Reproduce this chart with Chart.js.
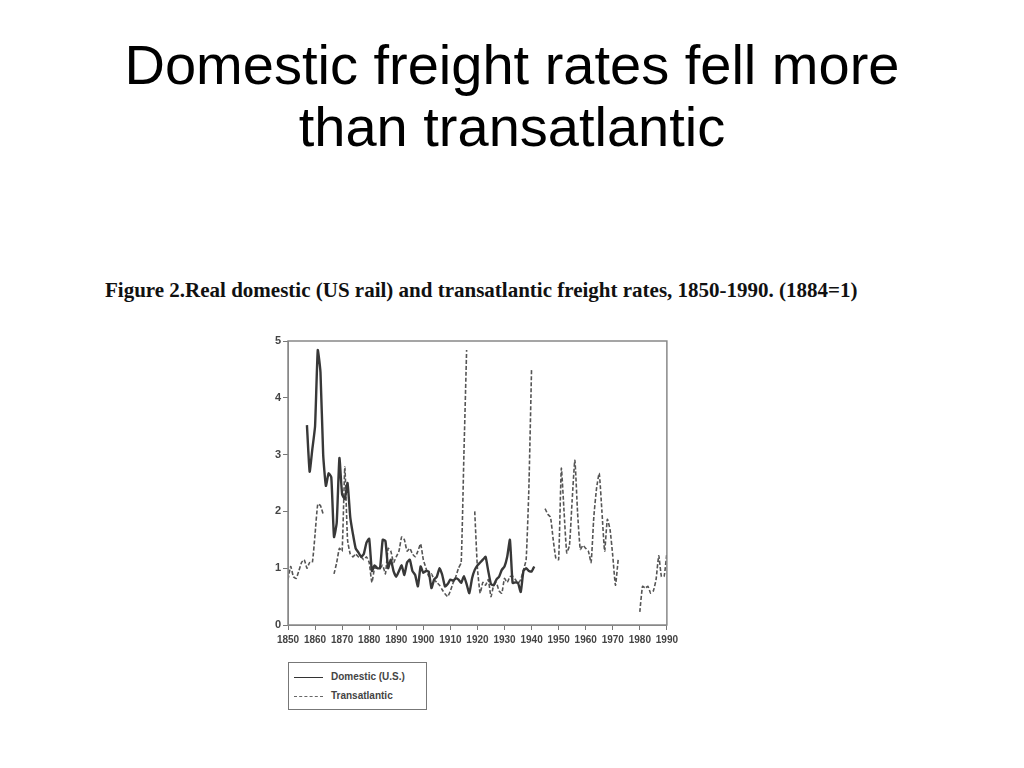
<!DOCTYPE html>
<html lang="en">
<head>
<meta charset="UTF-8">
<title>Domestic freight rates fell more than transatlantic</title>
<script src="https://cdn.jsdelivr.net/npm/chart.js"></script>
<style>
    body {
        margin: 0;
        width: 1024px;
        height: 768px;
        background: #ffffff;
        position: relative;
        overflow: hidden;
    }
    h1 {
        position: absolute;
        top: 34px;
        left: 0;
        width: 1024px;
        margin: 0;
        text-align: center;
        font-family: "Liberation Sans", Arial, sans-serif;
        font-weight: normal;
        font-size: 56px;
        line-height: 62px;
        color: #000;
    }
    .caption {
        position: absolute;
        top: 278px;
        left: 105px;
        font-family: "Liberation Serif", "Times New Roman", serif;
        font-weight: bold;
        font-size: 21px;
        color: #111;
        white-space: nowrap;
    }
    .chart-box {
        position: absolute;
        left: 250px;
        top: 330px;
        width: 432px;
        height: 330px;
    }
    .legend {
        position: absolute;
        left: 288px;
        top: 662px;
        width: 139px;
        height: 48px;
        border: 1px solid #777;
        box-sizing: border-box;
        font-family: "Liberation Sans", Arial, sans-serif;
        font-size: 10px;
        font-weight: bold;
        color: #444;
    }
    .legend div {
        position: absolute;
        left: 42px;
    }
    .legend span {
        position: absolute;
        left: 5px;
        width: 29px;
        height: 0;
    }
</style>
</head>
<body>
    <h1>Domestic freight rates fell more<br>than transatlantic</h1>
    <div class="caption">Figure 2.Real domestic (US rail) and transatlantic freight rates, 1850-1990. (1884=1)</div>

    <div class="chart-box"><canvas id="freightChart"></canvas></div>

    <div class="legend">
        <span style="top: 14px; border-top: 1.5px solid #333;"></span>
        <div style="top: 8px;">Domestic (U.S.)</div>
        <span style="top: 33px; border-top: 1px dashed #666;"></span>
        <div style="top: 27px;">Transatlantic</div>
    </div>

<script>
    // years 1850..1990, one value per year (null = no data)
    const startYear = 1850;
    const endYear = 1990;
    const xTicks = [1850, 1860, 1870, 1880, 1890, 1900, 1910, 1920, 1930, 1940, 1950, 1960, 1970, 1980, 1990];
    const yTicks = [0, 1, 2, 3, 4, 5];

    // Domestic (U.S.) rail rates, 1857-1941
    const domesticStart = 1857;
    const domestic = [
        3.52, 2.7, 3.1, 3.5, 4.84, 4.45, 3.0, 2.45, 2.67, 2.6,      // 1857-1866
        1.55, 1.8, 2.94, 2.3, 2.22, 2.5, 1.9, 1.6, 1.35, 1.28,      // 1867-1876
        1.2, 1.25, 1.45, 1.52, 0.95, 1.05, 1.0, 1.0, 1.5, 1.48,     // 1877-1886
        1.0, 1.15, 0.95, 0.85, 0.95, 1.05, 0.88, 1.1, 1.15, 0.95,   // 1887-1896
        0.88, 0.68, 1.03, 0.92, 0.95, 0.94, 0.65, 0.8, 0.85, 1.0,   // 1897-1906
        0.88, 0.68, 0.72, 0.8, 0.78, 0.82, 0.8, 0.74, 0.86, 0.72,   // 1907-1916
        0.56, 0.82, 0.97, 1.05, 1.1, 1.15, 1.2, 0.95, 0.72, 0.7,    // 1917-1926
        0.8, 0.85, 0.97, 1.03, 1.2, 1.5, 0.74, 0.75, 0.74, 0.58,    // 1927-1936
        0.95, 1.0, 0.95, 0.94, 1.03                                 // 1937-1941
    ];

    // Transatlantic rates, 1850-1990
    const transatlanticStart = 1850;
    const transatlantic = [
        0.8, 1.03, 0.85, 0.82, 0.95, 1.1, 1.15, 1.0, 1.1, 1.1,      // 1850-1859
        1.6, 2.13, 2.1, 1.95, null, null, null, 0.9, 1.1, 1.35,     // 1860-1869
        1.3, 2.78, 1.5, 1.25, 1.2, 1.25, 1.2, 1.2, 1.15, 1.2,       // 1870-1879
        1.1, 0.75, 1.0, 1.0, 1.0, 1.05, 0.9, 1.35, 1.3, 1.1,        // 1880-1889
        1.2, 1.3, 1.55, 1.5, 1.3, 1.35, 1.25, 1.2, 1.3, 1.43,       // 1890-1899
        1.15, 1.0, 0.86, 0.9, 0.8, 0.75, 0.7, 0.62, 0.55, 0.5,      // 1900-1909
        0.6, 0.74, 0.85, 1.0, 1.1, 3.0, 4.84, null, null, 2.0,      // 1910-1919
        1.0, 0.56, 0.75, 0.7, 0.8, 0.5, 0.7, 0.74, 0.6, 0.56,       // 1920-1929
        0.82, 0.75, 0.85, 0.86, 0.8, 0.74, 0.8, 0.97, 1.15, 2.4,    // 1930-1939
        4.52, null, null, null, null, 2.05, 1.95, 1.9, 1.5, 1.17,   // 1940-1949
        1.15, 2.76, 2.0, 1.27, 1.4, 2.2, 2.9, 1.98, 1.33, 1.4,      // 1950-1959
        1.35, 1.3, 1.1, 1.9, 2.4, 2.67, 2.0, 1.3, 1.86, 1.68,       // 1960-1969
        1.22, 0.7, 1.15, null, null, null, null, null, null, null,  // 1970-1979
        0.23, 0.68, 0.65, 0.68, 0.56, 0.6, 0.8, 1.22, 0.85, 0.86,   // 1980-1989
        1.27                                                        // 1990
    ];

    function toPoints(start, values) {
        return values.map((v, i) => ({ x: start + i, y: v }));
    }

    // draws the plot frame on all four sides
    const frame = {
        id: 'frame',
        afterDraw(chart) {
            const a = chart.chartArea;
            const ctx = chart.ctx;
            ctx.save();
            ctx.strokeStyle = '#888';
            ctx.lineWidth = 1.5;
            ctx.strokeRect(a.left, a.top, a.right - a.left, a.bottom - a.top);
            ctx.restore();
        }
    };

    const tickFont = { family: '"Liberation Sans", Arial, sans-serif', size: 10, weight: 'bold' };

    new Chart(document.getElementById('freightChart'), {
        type: 'line',
        data: {
            datasets: [{
                label: 'Domestic (U.S.)',
                data: toPoints(domesticStart, domestic),
                borderColor: '#383838',
                borderWidth: 2.4,
                pointRadius: 0,
                tension: 0.15,
                spanGaps: false
            }, {
                label: 'Transatlantic',
                data: toPoints(transatlanticStart, transatlantic),
                borderColor: '#555',
                borderWidth: 1.6,
                borderDash: [4, 2],
                pointRadius: 0,
                tension: 0.15,
                spanGaps: false
            }]
        },
        options: {
            responsive: true,
            maintainAspectRatio: false,
            animation: false,
            layout: { padding: { top: 11, right: 14, left: 0, bottom: 0 } },
            plugins: {
                legend: { display: false },
                tooltip: { enabled: false }
            },
            scales: {
                x: {
                    type: 'linear',
                    min: startYear,
                    max: endYear,
                    afterFit: s => { s.height = 35; },
                    afterBuildTicks: s => { s.ticks = xTicks.map(v => ({ value: v })); },
                    grid: { display: true, drawOnChartArea: false, tickLength: 5, color: '#777' },
                    border: { display: true, color: '#888' },
                    ticks: {
                        color: '#444',
                        font: tickFont,
                        maxRotation: 0,
                        autoSkip: false,
                        padding: 4,
                        callback: v => String(v)
                    }
                },
                y: {
                    min: 0,
                    max: 5,
                    afterFit: s => { s.width = 38; },
                    afterBuildTicks: s => { s.ticks = yTicks.map(v => ({ value: v })); },
                    grid: { display: true, drawOnChartArea: false, tickLength: 5, color: '#777' },
                    border: { display: true, color: '#888' },
                    ticks: {
                        color: '#444',
                        font: { family: tickFont.family, size: 11, weight: 'bold' },
                        padding: 2
                    }
                }
            }
        },
        plugins: [frame]
    });
</script>
</body>
</html>
